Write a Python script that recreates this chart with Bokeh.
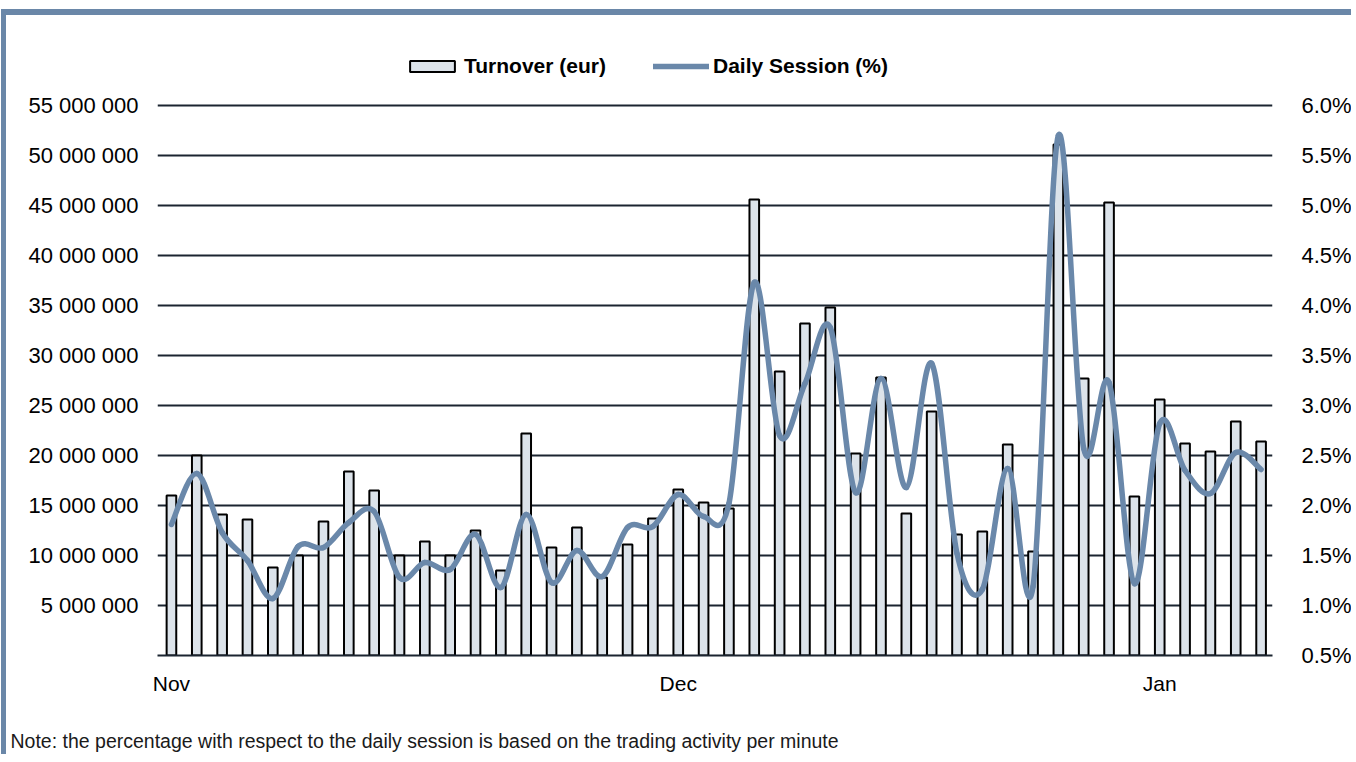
import numpy as np
from bokeh.plotting import figure
from bokeh.models import (LinearAxis, Range1d, FixedTicker, CustomJSTickFormatter,
                          PrintfTickFormatter, Legend, LegendItem, Title, ColumnDataSource)
from bokeh.embed import file_html
from bokeh.resources import INLINE

# ---------------- data ----------------
month_labels = ["Nov", "Dec", "Jan"]
month_start_index = [0, 20, 39]

turnover_eur = [
    16.0e6, 20.0e6, 14.1e6, 13.6e6, 8.8e6, 10.0e6, 13.4e6, 18.4e6, 16.5e6, 10.0e6,
    11.4e6, 10.0e6, 12.5e6, 8.5e6, 22.2e6, 10.8e6, 12.8e6, 7.8e6, 11.1e6, 13.7e6,
    16.6e6, 15.3e6, 14.7e6, 45.6e6, 28.4e6, 33.2e6, 34.8e6, 20.2e6, 27.8e6, 14.2e6,
    24.4e6, 12.1e6, 12.4e6, 21.1e6, 10.4e6, 51.1e6, 27.7e6, 45.3e6, 15.9e6, 25.6e6,
    21.2e6, 20.4e6, 23.4e6, 21.4e6,
]

daily_session_pct = [
    1.81, 2.32, 1.73, 1.45, 1.07, 1.59, 1.58, 1.83, 1.94, 1.28,
    1.43, 1.36, 1.71, 1.18, 1.91, 1.23, 1.55, 1.29, 1.78, 1.79,
    2.11, 1.89, 2.02, 4.23, 2.70, 3.22, 3.78, 2.13, 3.27, 2.18,
    3.42, 1.52, 1.16, 2.37, 1.19, 5.70, 2.57, 3.23, 1.22, 2.82,
    2.35, 2.12, 2.53, 2.36,
]

left_ticks = [5_000_000, 10_000_000, 15_000_000, 20_000_000, 25_000_000, 30_000_000,
              35_000_000, 40_000_000, 45_000_000, 50_000_000, 55_000_000]
right_ticks = [0.5, 1.0, 1.5, 2.0, 2.5, 3.0, 3.5, 4.0, 4.5, 5.0, 5.5, 6.0]

legend_bar_label = "Turnover (eur)"
legend_line_label = "Daily Session (%)"
note_text = "Note: the percentage with respect to the daily session is based on the trading activity per minute"

# ---------------- styling ----------------
FONT = "Liberation Sans"
GRID = "#1B2430"
BAR_FILL = "#DCE3EA"
LINE_COL = "#6A88AA"
BORDER_COL = "#6A87A8"

W, H = 1350, 745
ML, MR, MT, MB = 151, 84, 15, 105
FH = H - MT - MB            # 625 px of frame; the grid occupies the lower 550 px
GRID_PX = 550
left_top = 55_000_000 * FH / GRID_PX
right_top = 0.5 + 5.5 * FH / GRID_PX

idx = np.arange(len(turnover_eur))

p = figure(width=W, height=H, output_backend="svg", toolbar_location=None,
           x_range=Range1d(-0.55, 43.45), y_range=Range1d(0, left_top),
           min_border_left=ML, min_border_right=MR, min_border_top=MT, min_border_bottom=MB,
           background_fill_color="white", border_fill_color="white")
p.outline_line_color = None
p.extra_y_ranges = {"pct": Range1d(0.5, right_top)}
p.styles = {"border-top": f"6px solid {BORDER_COL}", "border-left": f"5px solid {BORDER_COL}",
            "margin-top": "9px", "margin-left": "1px"}

# bars
bars = p.vbar(x=idx, top=turnover_eur, width=0.38, bottom=0,
              fill_color=BAR_FILL, line_color="black", line_width=2)

# smoothed line (Bezier segments through the points, like a spreadsheet "smoothed line")
xs = idx.astype(float)
ys = np.array(daily_session_pct, dtype=float)
n = len(ys)
x0, y0, x1, y1, cx0, cy0, cx1, cy1 = ([] for _ in range(8))
for i in range(n - 1):
    a = max(i - 1, 0)
    d = min(i + 2, n - 1)
    x0.append(xs[i]); y0.append(ys[i])
    x1.append(xs[i + 1]); y1.append(ys[i + 1])
    cx0.append(xs[i] + (xs[i + 1] - xs[a]) / 6.0)
    cy0.append(ys[i] + (ys[i + 1] - ys[a]) / 6.0)
    cx1.append(xs[i + 1] - (xs[d] - xs[i]) / 6.0)
    cy1.append(ys[i + 1] - (ys[d] - ys[i]) / 6.0)
src = ColumnDataSource(dict(x0=x0, y0=y0, x1=x1, y1=y1, cx0=cx0, cy0=cy0, cx1=cx1, cy1=cy1))
curve = p.bezier(x0="x0", y0="y0", x1="x1", y1="y1", cx0="cx0", cy0="cy0", cx1="cx1", cy1="cy1",
                 source=src, y_range_name="pct", line_color=LINE_COL, line_width=5.5,
                 line_cap="round", line_join="round")

# grid
p.xgrid.visible = False
p.ygrid.ticker = FixedTicker(ticks=left_ticks)
p.ygrid.grid_line_color = GRID
p.ygrid.grid_line_width = 2

# x axis
xa = p.xaxis[0]
xa.ticker = FixedTicker(ticks=month_start_index)
xa.major_label_overrides = {int(i): lab for i, lab in zip(month_start_index, month_labels)}
xa.axis_line_color = GRID
xa.axis_line_width = 2
xa.major_tick_line_color = None
xa.minor_tick_line_color = None
xa.major_tick_out = 0
xa.major_tick_in = 0
xa.major_label_standoff = 16
xa.major_label_text_font = FONT
xa.major_label_text_font_size = "21px"
xa.major_label_text_color = "black"

# left axis
ya = p.yaxis[0]
ya.ticker = FixedTicker(ticks=left_ticks)
ya.formatter = CustomJSTickFormatter(code="""
    return Math.round(tick).toString().replace(/\\B(?=(\\d{3})+(?!\\d))/g, " ");
""")
ya.axis_line_color = None
ya.major_tick_line_color = None
ya.minor_tick_line_color = None
ya.major_tick_out = 0
ya.major_tick_in = 0
ya.major_label_standoff = 19
ya.major_label_text_font = FONT
ya.major_label_text_font_size = "22px"
ya.major_label_text_color = "black"

# right axis
ra = LinearAxis(y_range_name="pct", ticker=FixedTicker(ticks=right_ticks),
                formatter=PrintfTickFormatter(format="%.1f%%"))
ra.axis_line_color = None
ra.major_tick_line_color = None
ra.minor_tick_line_color = None
ra.major_tick_out = 0
ra.major_tick_in = 0
ra.major_label_standoff = 29
ra.major_label_text_font = FONT
ra.major_label_text_font_size = "22px"
ra.major_label_text_color = "black"
p.add_layout(ra, "right")

# legend (inside the upper, grid-free part of the frame)
legend = Legend(items=[LegendItem(label=legend_bar_label, renderers=[bars]),
                       LegendItem(label=legend_line_label, renderers=[curve])],
                location=(247, 577), orientation="horizontal",
                glyph_width=56, glyph_height=14, label_standoff=4, spacing=47,
                padding=0, margin=0, border_line_alpha=0, background_fill_alpha=0,
                label_text_font=FONT, label_text_font_style="bold",
                label_text_font_size="21px", label_text_color="black")
p.add_layout(legend)

# note below the axis (leading empty line pushes it lower inside its panel)
note = Title(text="\n" + note_text, align="left", offset=-147, standoff=16,
             text_font=FONT, text_font_size="19.5px", text_font_style="normal",
             text_color="#1a1a1a")
p.add_layout(note, "below")

open("out.html", "w").write(file_html(p, INLINE))
